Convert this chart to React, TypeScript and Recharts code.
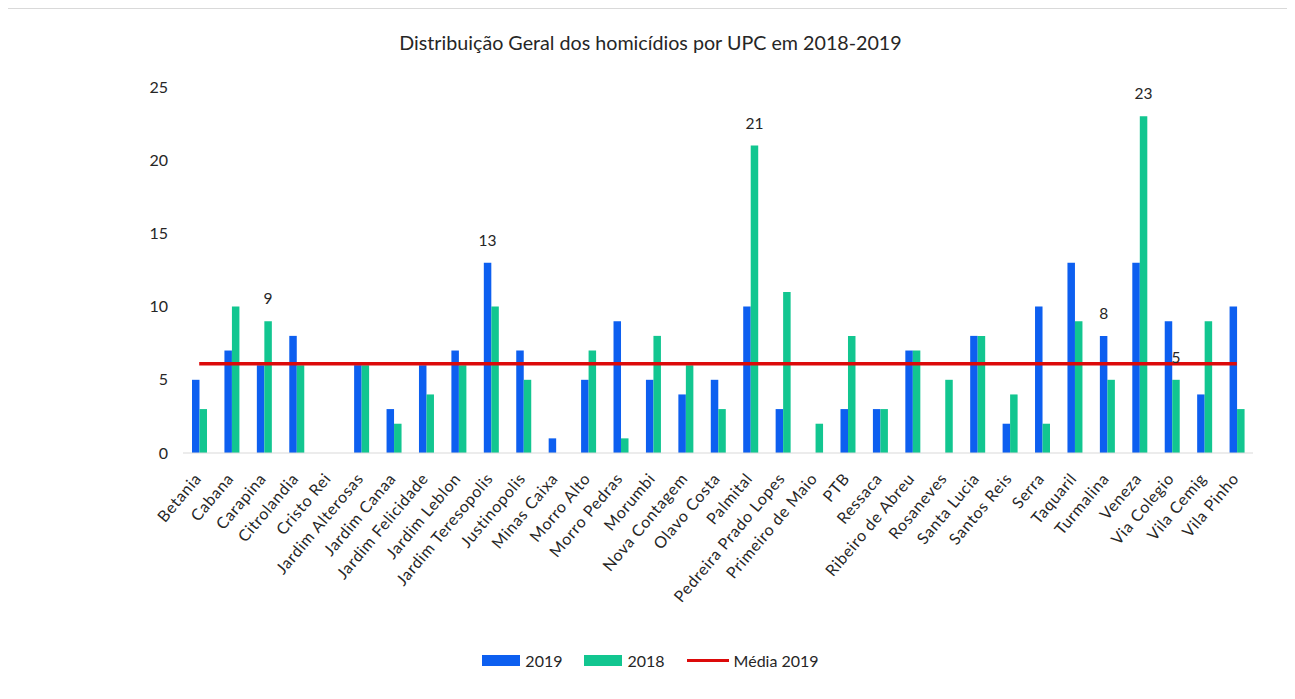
import { Bar, ComposedChart, LabelList, Legend, Line, XAxis, YAxis } from "recharts";

const upcs = [
  "Betania", "Cabana", "Carapina", "Citrolandia", "Cristo Rei", "Jardim Alterosas",
  "Jardim Canaa", "Jardim Felicidade", "Jardim Leblon", "Jardim Teresopolis",
  "Justinopolis", "Minas Caixa", "Morro Alto", "Morro Pedras", "Morumbi",
  "Nova Contagem", "Olavo Costa", "Palmital", "Pedreira Prado Lopes",
  "Primeiro de Maio", "PTB", "Ressaca", "Ribeiro de Abreu", "Rosaneves",
  "Santa Lucia", "Santos Reis", "Serra", "Taquaril", "Turmalina", "Veneza",
  "Via Colegio", "Vila Cemig", "Vila Pinho",
];
const casos2019 = [5, 7, 6, 8, 0, 6, 3, 6, 7, 13, 7, 1, 5, 9, 5, 4, 5, 10, 3, 0, 3, 3, 7, 0, 8, 2, 10, 13, 8, 13, 9, 4, 10];
const casos2018 = [3, 10, 9, 6, 0, 6, 2, 4, 6, 10, 5, 0, 7, 1, 8, 6, 3, 21, 11, 2, 8, 3, 7, 5, 8, 4, 2, 9, 5, 23, 5, 9, 3];
const media2019 = 6.1;
const yTicks = [0, 5, 10, 15, 20, 25];

// only a few bars carry a value label in the original
const rotulos2019 = ["Jardim Teresopolis", "Turmalina"];
const rotulos2018 = ["Carapina", "Palmital", "Veneza", "Via Colegio"];

const AZUL = "#0d5ff0";
const VERDE = "#12c690";
const VERMELHO = "#dc0a0a";
const FONTE = "Lato, 'Open Sans', sans-serif";

const data = upcs.map((upc, i) => ({
  upc,
  v2019: casos2019[i],
  v2018: casos2018[i],
  lab2019: rotulos2019.includes(upc) ? casos2019[i] : null,
  lab2018: rotulos2018.includes(upc) ? casos2018[i] : null,
  media: media2019,
}));

function ValorLabel(props: any) {
  const { x, y, width, value } = props;
  if (value === null || value === undefined) return null;
  return (
    <text
      x={Number(x) + Number(width) / 2}
      y={Number(y) - 17}
      textAnchor="middle"
      fontSize={15.5}
      fontFamily={FONTE}
      fill="#262626"
    >
      {value}
    </text>
  );
}

function UpcTick({ x, y, payload }: any) {
  return (
    <g transform={`translate(${x + 3},${y + 18}) rotate(-50)`}>
      <text
        textAnchor="end"
        fontSize={16}
        letterSpacing={0.7}
        fontFamily={FONTE}
        fill="#262626"
      >
        {payload.value}
      </text>
    </g>
  );
}

function Legenda() {
  const item = { display: "flex", alignItems: "center", gap: 5 } as const;
  return (
    <div
      style={{
        display: "flex",
        justifyContent: "center",
        gap: 22,
        fontFamily: FONTE,
        fontSize: 16,
        color: "#262626",
      }}
    >
      <div style={item}>
        <span style={{ width: 38, height: 11, background: AZUL, display: "inline-block" }} />
        2019
      </div>
      <div style={item}>
        <span style={{ width: 38, height: 11, background: VERDE, display: "inline-block" }} />
        2018
      </div>
      <div style={item}>
        <span style={{ width: 42, height: 3, background: VERMELHO, display: "inline-block" }} />
        Média 2019
      </div>
    </div>
  );
}

export default function App() {
  return (
    <div
      style={{
        position: "relative",
        marginLeft: -1,
        width: 1287,
        height: 700,
        border: "1px solid #d9d9d9",
        boxSizing: "border-box",
        background: "#fff",
      }}
    >
      <div
        style={{
          position: "absolute",
          top: 22,
          left: 0,
          width: "100%",
          textAlign: "center",
          fontFamily: FONTE,
          fontSize: 19.7,
          color: "#262626",
        }}
      >
        Distribuição Geral dos homicídios por UPC em 2018-2019
      </div>
      <ComposedChart
        width={1285}
        height={690}
        data={data}
        margin={{ top: 78, right: 40, bottom: 24, left: 120 }}
        barGap={0}
      >
        <XAxis
          dataKey="upc"
          interval={0}
          height={198}
          tick={<UpcTick />}
          tickLine={false}
          axisLine={{ stroke: "#d9d9d9" }}
        />
        <YAxis
          width={55}
          domain={[0, 25]}
          ticks={yTicks}
          axisLine={false}
          tickLine={false}
          tickMargin={9}
          tick={{ fontSize: 16, fill: "#262626", fontFamily: FONTE }}
        />
        <Legend
          verticalAlign="bottom"
          height={24}
          content={<Legenda />}
          wrapperStyle={{ left: 0, width: 1285 }}
        />
        <Bar dataKey="v2019" name="2019" fill={AZUL} barSize={7.5} isAnimationActive={false}>
          <LabelList dataKey="lab2019" content={<ValorLabel />} />
        </Bar>
        <Bar dataKey="v2018" name="2018" fill={VERDE} barSize={7.5} isAnimationActive={false}>
          <LabelList dataKey="lab2018" content={<ValorLabel />} />
        </Bar>
        <Line
          dataKey="media"
          name="Média 2019"
          type="linear"
          stroke={VERMELHO}
          strokeWidth={3.5}
          dot={false}
          activeDot={false}
          isAnimationActive={false}
        />
      </ComposedChart>
    </div>
  );
}
